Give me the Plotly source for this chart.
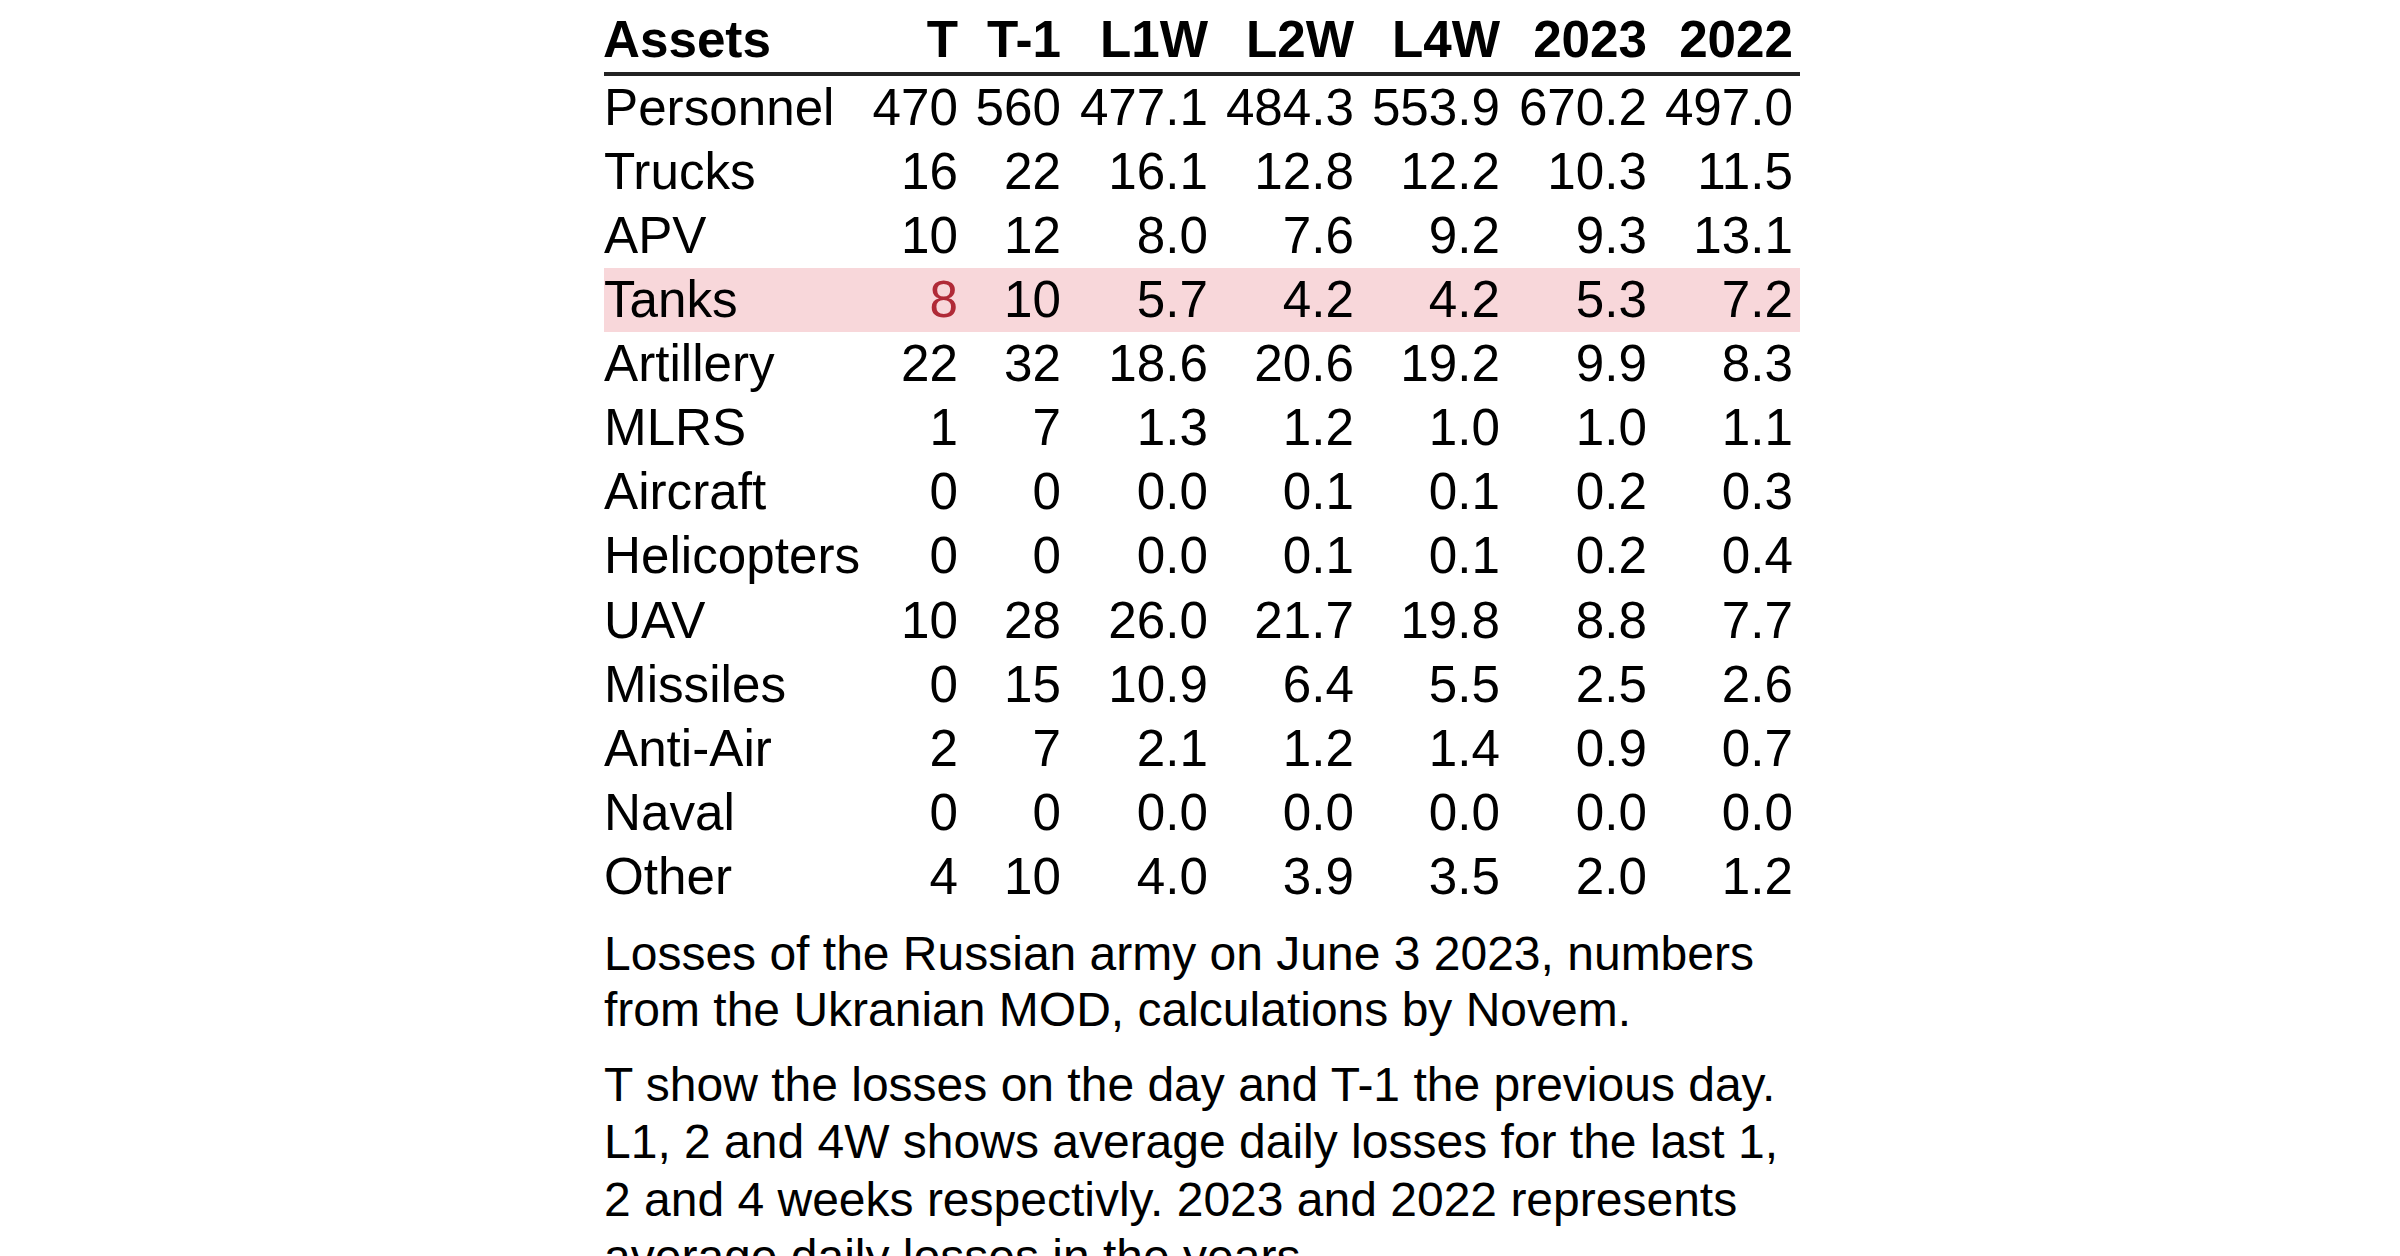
import plotly.graph_objects as go

# table data
assets = ["Personnel", "Trucks", "APV", "Tanks", "Artillery", "MLRS", "Aircraft",
          "Helicopters", "UAV", "Missiles", "Anti-Air", "Naval", "Other"]
t_day = [470, 16, 10, 8, 22, 1, 0, 0, 10, 0, 2, 0, 4]
t_prev = [560, 22, 12, 10, 32, 7, 0, 0, 28, 15, 7, 0, 10]
l1w = [477.1, 16.1, 8.0, 5.7, 18.6, 1.3, 0.0, 0.0, 26.0, 10.9, 2.1, 0.0, 4.0]
l2w = [484.3, 12.8, 7.6, 4.2, 20.6, 1.2, 0.1, 0.1, 21.7, 6.4, 1.2, 0.0, 3.9]
l4w = [553.9, 12.2, 9.2, 4.2, 19.2, 1.0, 0.1, 0.1, 19.8, 5.5, 1.4, 0.0, 3.5]
y2023 = [670.2, 10.3, 9.3, 5.3, 9.9, 1.0, 0.2, 0.2, 8.8, 2.5, 0.9, 0.0, 2.0]
y2022 = [497.0, 11.5, 13.1, 7.2, 8.3, 1.1, 0.3, 0.4, 7.7, 2.6, 0.7, 0.0, 1.2]

headers = ["Assets", "T", "T-1", "L1W", "L2W", "L4W", "2023", "2022"]
highlight_row = "Tanks"
highlight_col = "T"

caption_lines = [
    "Losses of the Russian army on June 3 2023, numbers",
    "from the Ukranian MOD, calculations by Novem.",
    "T show the losses on the day and T-1 the previous day.",
    "L1, 2 and 4W shows average daily losses for the last 1,",
    "2 and 4 weeks respectivly. 2023 and 2022 represents",
    "average daily losses in the years.",
]

# layout (page pixels; the page body adds an 8px margin)
W, H = 2400, 1256
OFF = 8
FONT = "Liberation Sans, Arial, sans-serif"
TXT = "#000000"
RED = "#B02A37"
PINK = "#F8D7DA"
left_x = 604
col_right = [958, 1061, 1208, 1354, 1500, 1647, 1793]
table_x0, table_x1 = 604, 1800
row_pitch = 64.1
txt_shift = 7                      # plotly draws text a bit above its anchor
row0_fig = 105 - OFF + txt_shift   # figure pixel of row index 0


def shape_row(px):
    return (px - OFF - row0_fig) / row_pitch


def text_row(px):
    return (px - OFF + txt_shift - row0_fig) / row_pitch


fig = go.Figure()

rows = list(range(len(assets)))
columns = [
    [str(v) for v in t_day],
    [str(v) for v in t_prev],
    [f"{v:.1f}" for v in l1w],
    [f"{v:.1f}" for v in l2w],
    [f"{v:.1f}" for v in l4w],
    [f"{v:.1f}" for v in y2023],
    [f"{v:.1f}" for v in y2022],
]

# first column
fig.add_trace(go.Scatter(
    x=[left_x] * len(assets), y=rows, text=assets, mode="text",
    textposition="middle right", hoverinfo="skip", showlegend=False,
    textfont=dict(family=FONT, size=51.2, color=TXT)))

for name, vals, xr in zip(headers[1:], columns, col_right):
    colors = [RED if (name == highlight_col and a == highlight_row) else TXT for a in assets]
    fig.add_trace(go.Scatter(
        x=[xr] * len(vals), y=rows, text=vals, mode="text",
        textposition="middle left", hoverinfo="skip", showlegend=False,
        textfont=dict(family=FONT, size=51.2, color=colors)))

# header row
hy = text_row(37.5)
fig.add_trace(go.Scatter(
    x=[left_x - 1], y=[hy], text=["<b>" + headers[0] + "</b>"], mode="text",
    textposition="middle right", hoverinfo="skip", showlegend=False,
    textfont=dict(family=FONT, size=51.2, color=TXT)))
fig.add_trace(go.Scatter(
    x=col_right, y=[hy] * len(col_right), text=["<b>" + h + "</b>" for h in headers[1:]],
    mode="text", textposition="middle left", hoverinfo="skip", showlegend=False,
    textfont=dict(family=FONT, size=51.2, color=TXT)))

# header rule
fig.add_shape(type="line", xref="x", yref="y", x0=table_x0, x1=table_x1,
              y0=shape_row(74), y1=shape_row(74), line=dict(color="#222222", width=4))

# highlighted row
fig.add_shape(type="rect", xref="x", yref="y", x0=table_x0, x1=table_x1,
              y0=shape_row(268), y1=shape_row(332), fillcolor=PINK, line=dict(width=0),
              layer="below")

# caption
cap_px = [953, 1009, 1084, 1141.6, 1199.2, 1256.8]
for line, py in zip(caption_lines, cap_px):
    fig.add_annotation(xref="paper", yref="paper", x=(left_x - 2 - OFF) / W, y=1 - (py - OFF) / H,
                       xanchor="left", yanchor="middle", showarrow=False, align="left",
                       text=line, font=dict(family=FONT, size=48, color=TXT))

fig.update_layout(
    width=W, height=H,
    margin=dict(l=0, r=0, t=0, b=0),
    paper_bgcolor="white", plot_bgcolor="white",
    xaxis=dict(range=[OFF, W + OFF], visible=False, fixedrange=True),
    yaxis=dict(range=[(H - row0_fig) / row_pitch, -row0_fig / row_pitch],
               visible=False, fixedrange=True),
)

fig.write_html("out.html")
